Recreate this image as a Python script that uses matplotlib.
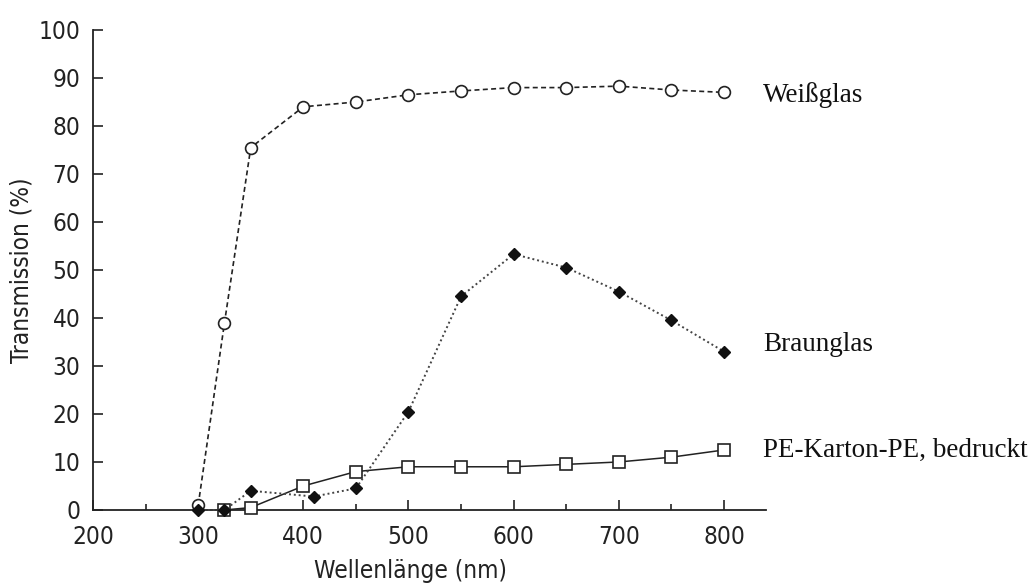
import matplotlib
matplotlib.use("Agg")
import matplotlib.pyplot as plt
from matplotlib.ticker import MultipleLocator

# data
wl_weiss = [300, 325, 350, 400, 450, 500, 550, 600, 650, 700, 750, 800]
weissglas = [1, 39, 75.5, 84, 85, 86.5, 87.3, 88, 88, 88.3, 87.5, 87]

wl_braun = [300, 325, 350, 410, 450, 500, 550, 600, 650, 700, 750, 800]
braunglas = [0, 0, 4, 2.8, 4.5, 20.5, 44.5, 53.3, 50.5, 45.5, 39.5, 33]

wl_pe = [325, 350, 400, 450, 500, 550, 600, 650, 700, 750, 800]
pe_karton = [0, 0.5, 5, 8, 9, 9, 9, 9.5, 10, 11, 12.5]

labels = ["Weißglas", "Braunglas", "PE-Karton-PE, bedruckt"]

serif_font = ["Liberation Serif", "DejaVu Serif"]

fig = plt.figure(figsize=(10.36, 5.88), dpi=100)
ax = fig.add_axes([0.0898, 0.1327, 0.6496, 0.8163])

ax.plot(wl_weiss, weissglas, ls=(0, (3, 2)), lw=1.2, color="#222222", marker="o",
        ms=8.5, mfc="white", mec="#222222", mew=1.2, clip_on=False, zorder=3)
ax.plot(wl_braun, braunglas, ls=(0, (1, 1.5)), lw=1.4, color="#444444", marker="D",
        ms=6, mfc="#111111", mec="#111111", clip_on=False, zorder=4)
ax.plot(wl_pe, pe_karton, ls="-", lw=1.1, color="#222222", marker="s",
        ms=8, mfc="white", mec="#222222", mew=1.2, clip_on=False, zorder=3)

# series names next to the last point
offsets = [(28, -2), (28, 5), (28, 0)]
ends = [(wl_weiss[-1], weissglas[-1]), (wl_braun[-1], braunglas[-1]), (wl_pe[-1], pe_karton[-1])]
for lab, (x, y), off in zip(labels, ends, offsets):
    ax.annotate(lab, (x, y), xytext=off, textcoords="offset points", va="center",
                ha="left", fontsize=19.5, family=serif_font, color="#111111",
                annotation_clip=False)

ax.set_xlim(200, 840)
ax.set_ylim(0, 100)
ax.xaxis.set_major_locator(MultipleLocator(100))
ax.xaxis.set_minor_locator(MultipleLocator(50))
ax.yaxis.set_major_locator(MultipleLocator(10))

ax.spines["top"].set_visible(False)
ax.spines["right"].set_visible(False)
for s in ["left", "bottom"]:
    ax.spines[s].set_linewidth(1.3)
    ax.spines[s].set_color("#222222")

ax.tick_params(axis="both", which="major", direction="in", length=7, width=1.2,
               color="#222222", labelsize=17.5, labelcolor="#222222")
ax.tick_params(axis="x", which="minor", direction="in", length=4, width=1.2, color="#222222")
ax.tick_params(axis="x", which="major", pad=11)
ax.tick_params(axis="y", which="major", pad=9)
for t in ax.get_xticklabels() + ax.get_yticklabels():
    t.set_family("DejaVu Sans")
    t.set_stretch("condensed")

ax.set_xlabel("Wellenlänge (nm)", fontsize=17.5, family="DejaVu Sans", stretch="condensed",
              color="#222222", va="center")
ax.set_ylabel("Transmission (%)", fontsize=17.5, family="DejaVu Sans", stretch="condensed",
              color="#222222", va="center")
ax.xaxis.set_label_coords(0.471, -0.127)
ax.yaxis.set_label_coords(-0.106, 0.5)

fig.savefig("out.png", dpi=100)
